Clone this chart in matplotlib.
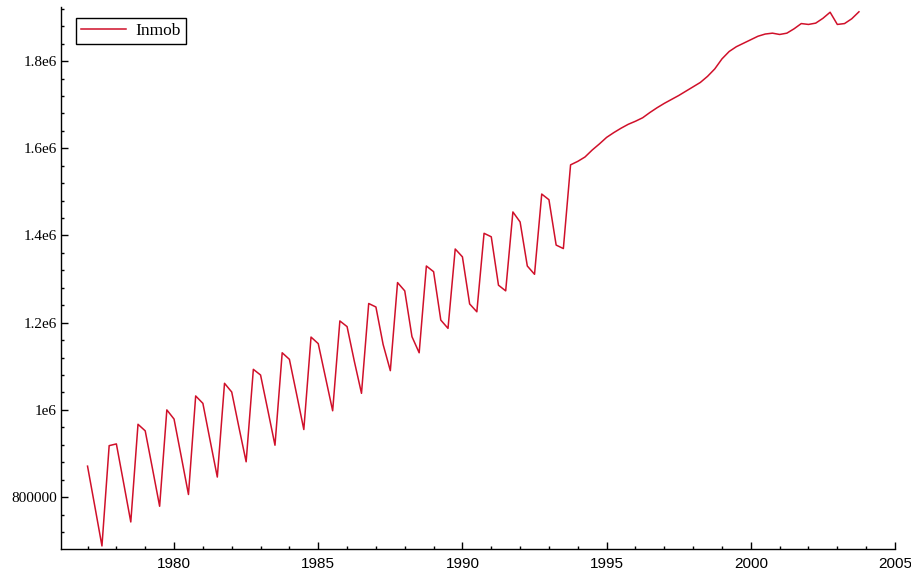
"""
plot.py
Quarterly series 'Inmob', 1977-2003.
"""

import numpy as np
import matplotlib
matplotlib.use("Agg")
import matplotlib.pyplot as plt
from matplotlib.ticker import FixedLocator, FixedFormatter, MultipleLocator

# quarterly values, thousands
seasonal = [
    871, 780, 688, 918,      # 1977
    922, 833, 743, 967,      # 1978
    952, 866, 779, 1000,     # 1979
    979, 893, 806, 1032,     # 1980
    1015, 930, 846, 1061,    # 1981
    1041, 960, 881, 1093,    # 1982
    1080, 1000, 919, 1131,   # 1983
    1116, 1036, 955, 1167,   # 1984
    1152, 1075, 998, 1204,   # 1985
    1191, 1112, 1038, 1244,  # 1986
    1236, 1150, 1090, 1292,  # 1987
    1273, 1168, 1131, 1330,  # 1988
    1317, 1206, 1187, 1369,  # 1989
    1351, 1243, 1225, 1405,  # 1990
    1397, 1286, 1273, 1454,  # 1991
    1431, 1330, 1311, 1495,  # 1992
    1482, 1378, 1370, 1562,  # 1993
]
smooth = [
    1570, 1580, 1596, 1610,  # 1994
    1625, 1636, 1646, 1655,  # 1995
    1662, 1670, 1682, 1693,  # 1996
    1703, 1712, 1721, 1731,  # 1997
    1741, 1751, 1765, 1782,  # 1998
    1805, 1822, 1833, 1841,  # 1999
    1849, 1857, 1862, 1864,  # 2000
    1861, 1864, 1874, 1886,  # 2001
    1884, 1887, 1898, 1912,  # 2002
    1884, 1886, 1897, 1913,  # 2003
]
values = np.array(seasonal + smooth) * 1000
years = 1977 + np.arange(len(values)) / 4

y_ticks = [800000, 1000000, 1200000, 1400000, 1600000, 1800000]
y_labels = ["800000", "1e6", "1.2e6", "1.4e6", "1.6e6", "1.8e6"]
x_ticks = [1980, 1985, 1990, 1995, 2000, 2005]

fig = plt.figure(figsize=(9.12, 5.74), dpi=100)
ax = fig.add_axes([61 / 912, 1 - 549 / 574, (895 - 61) / 912, (549 - 7) / 574])

ax.plot(years, values, color="#d0102a", linewidth=1.1, label="Inmob")

ax.set_xlim(1976.08, 2005)
ax.set_ylim(681000, 1924000)

ax.xaxis.set_major_locator(FixedLocator(x_ticks))
ax.xaxis.set_minor_locator(MultipleLocator(1))
ax.yaxis.set_major_locator(FixedLocator(y_ticks))
ax.yaxis.set_major_formatter(FixedFormatter(y_labels))
ax.yaxis.set_minor_locator(MultipleLocator(40000))

for side in ("top", "right"):
    ax.spines[side].set_visible(False)
for side in ("left", "bottom"):
    ax.spines[side].set_linewidth(1.0)
    ax.spines[side].set_color("black")

ax.tick_params(which="both", direction="in", color="black", width=1.0)
ax.tick_params(which="major", length=5)
ax.tick_params(which="minor", length=2.5)
ax.tick_params(axis="y", pad=3)
ax.tick_params(axis="x", pad=6)

for lab in ax.get_yticklabels():
    lab.set_fontfamily("Liberation Serif")
    lab.set_fontsize(11)
for lab in ax.get_xticklabels():
    lab.set_fontfamily("Liberation Sans")
    lab.set_fontsize(11)

leg = ax.legend(loc="upper left", bbox_to_anchor=(0.018, 0.98), fancybox=False,
                framealpha=1, edgecolor="black", borderpad=0.3, handlelength=2.6,
                handletextpad=0.5, borderaxespad=0,
                prop={"family": "Liberation Serif", "size": 12.5})
leg.get_frame().set_linewidth(1.0)

fig.savefig("out.png", dpi=100)
